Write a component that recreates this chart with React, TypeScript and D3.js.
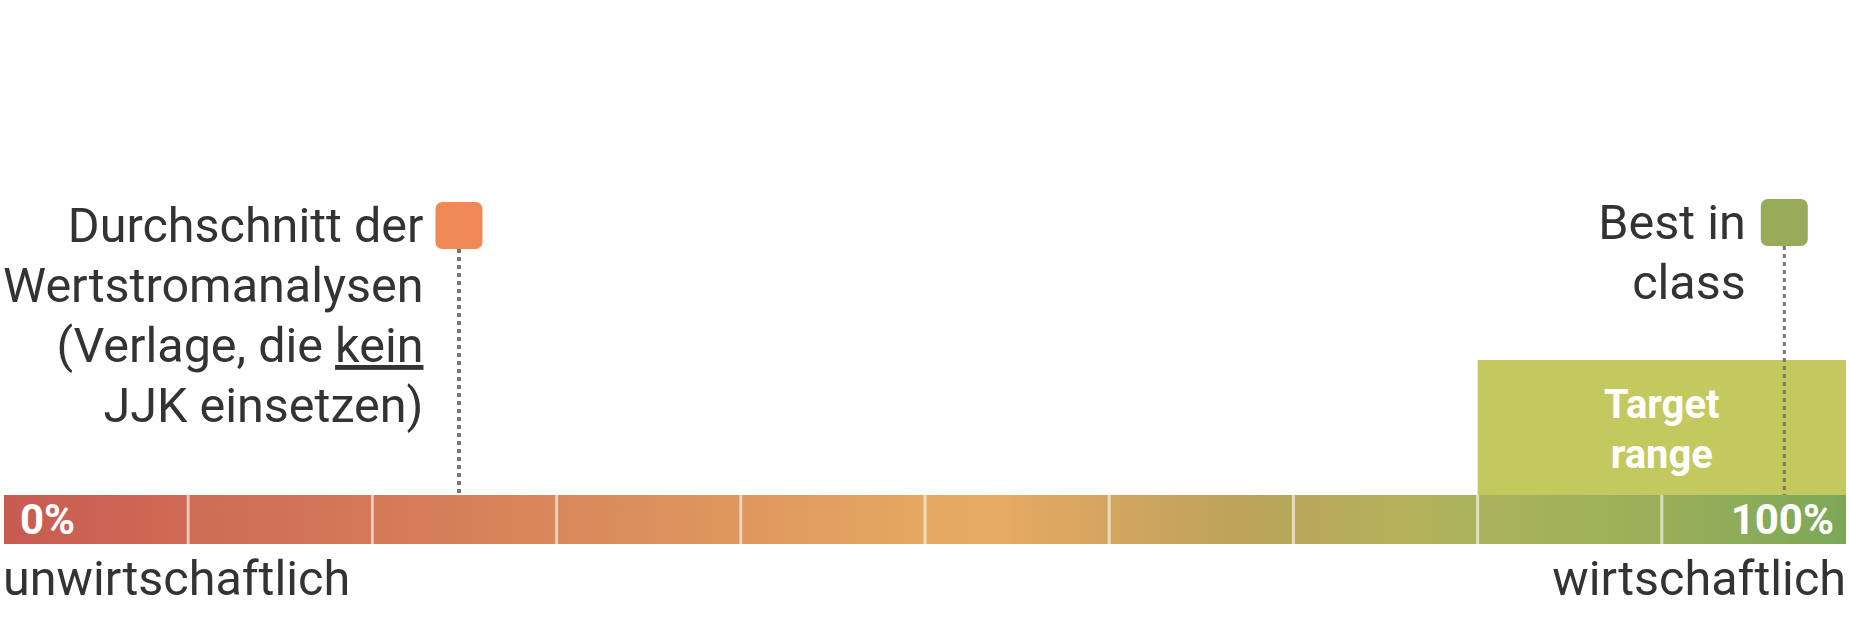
import { useEffect, useRef } from "react";
import * as d3 from "d3";

const WIDTH = 1850;
const HEIGHT = 620;

// scale 0..100 %, split into 10 blocks
const scaleDomain = [0, 100];
const scaleEndLabels = ["0%", "100%"];
const sideLabels = ["unwirtschaftlich", "wirtschaftlich"];

// markers
const markerValues = [24.7, 96.65];
const markerColors = ["#F08956", "#97AB58"];
const markerLines = [
  ["Durchschnitt der", "Wertstromanalysen", "(Verlage, die |kein", "JJK einsetzen)"],
  ["Best in", "class"],
];

const targetRange = [80, 100];
const targetLines = ["Target", "range"];

const gradientStops: [number, string][] = [
  [0, "#C85A52"],
  [0.1, "#CF6B55"],
  [0.25, "#D6805A"],
  [0.4, "#DF975E"],
  [0.5, "#E5A862"],
  [0.54, "#E6AA64"],
  [0.6, "#D4A55F"],
  [0.68, "#B9A35B"],
  [0.76, "#B5B25B"],
  [0.8, "#AAB35C"],
  [0.9, "#9BAE5A"],
  [1, "#7AA858"],
];

const FONT = "Roboto, 'Noto Sans', sans-serif";
const TEXT = "#333333";

export default function App() {
  const ref = useRef<SVGSVGElement>(null);

  useEffect(() => {
    document.body.style.margin = "0";
    if (!ref.current) return;

    const barTop = 495;
    const barH = 49;
    const markerSize = 47;

    const svg = d3.select(ref.current);
    svg.selectAll("*").remove();

    const x = d3.scaleLinear().domain(scaleDomain).range([4, 1846]);

    const grad = svg
      .append("defs")
      .append("linearGradient")
      .attr("id", "barGrad")
      .attr("x1", "0%")
      .attr("x2", "100%");
    grad
      .selectAll("stop")
      .data(gradientStops)
      .join("stop")
      .attr("offset", (d) => d[0])
      .attr("stop-color", (d) => d[1]);

    // target range box
    svg
      .append("rect")
      .attr("x", x(targetRange[0]))
      .attr("y", 360)
      .attr("width", x(targetRange[1]) - x(targetRange[0]))
      .attr("height", barTop - 360)
      .attr("fill", "#C3C95E");

    svg
      .append("text")
      .attr("font-family", FONT)
      .attr("font-weight", 700)
      .attr("font-size", 40)
      .attr("fill", "#fff")
      .attr("text-anchor", "middle")
      .selectAll("tspan")
      .data(targetLines)
      .join("tspan")
      .attr("x", (x(targetRange[0]) + x(targetRange[1])) / 2)
      .attr("y", (_, i) => 418 + i * 50)
      .text((d) => d);

    // bar
    svg
      .append("rect")
      .attr("x", x(0))
      .attr("y", barTop)
      .attr("width", x(100) - x(0))
      .attr("height", barH)
      .attr("fill", "url(#barGrad)");

    svg
      .append("g")
      .selectAll("line")
      .data(x.ticks(10).slice(1, -1))
      .join("line")
      .attr("x1", (d) => x(d))
      .attr("x2", (d) => x(d))
      .attr("y1", barTop)
      .attr("y2", barTop + barH)
      .attr("stroke", "rgba(255,255,255,0.6)")
      .attr("stroke-width", 3);

    // end labels inside bar
    svg
      .append("g")
      .selectAll("text")
      .data(scaleEndLabels)
      .join("text")
      .attr("x", (_, i) => (i === 0 ? x(scaleDomain[0]) + 16 : x(scaleDomain[1]) - 12))
      .attr("y", 534)
      .attr("text-anchor", (_, i) => (i === 0 ? "start" : "end"))
      .attr("font-family", FONT)
      .attr("font-weight", 700)
      .attr("font-size", 42)
      .attr("fill", "#fff")
      .text((d) => d);

    // labels below bar
    svg
      .append("g")
      .selectAll("text")
      .data(sideLabels)
      .join("text")
      .attr("x", (_, i) => (i === 0 ? x(scaleDomain[0]) - 1 : x(scaleDomain[1])))
      .attr("y", 595)
      .attr("text-anchor", (_, i) => (i === 0 ? "start" : "end"))
      .attr("font-family", FONT)
      .attr("font-size", 48.5)
      .attr("fill", TEXT)
      .text((d) => d);

    // markers
    const mk = svg
      .append("g")
      .selectAll("g")
      .data(markerValues.map((v, i) => ({ v, i, color: markerColors[i], lines: markerLines[i] })))
      .join("g");

    const top = (i: number) => (i === 0 ? 202 : 199);

    mk.append("line")
      .attr("x1", (d) => x(d.v))
      .attr("x2", (d) => x(d.v))
      .attr("y1", (d) => top(d.i) + markerSize)
      .attr("y2", barTop)
      .attr("stroke", "#777")
      .attr("stroke-width", (d) => (d.i === 0 ? 4 : 3))
      .attr("stroke-dasharray", "4,4");

    mk.append("rect")
      .attr("x", (d) => x(d.v) - markerSize / 2)
      .attr("y", (d) => top(d.i))
      .attr("width", markerSize)
      .attr("height", markerSize)
      .attr("rx", 7)
      .attr("fill", (d) => d.color);

    const label = mk
      .append("text")
      .attr("font-family", FONT)
      .attr("font-size", 48.5)
      .attr("fill", TEXT)
      .attr("text-anchor", "end");

    label.each(function (d) {
      const t = d3.select(this);
      const gap = d.i === 0 ? 12 : 15;
      d.lines.forEach((line, j) => {
        const [plain, under] = line.split("|");
        t.append("tspan")
          .attr("x", x(d.v) - markerSize / 2 - gap)
          .attr("y", top(d.i) + 40 + j * 60)
          .text(plain);
        if (under !== undefined) {
          t.append("tspan").attr("text-decoration", "underline").text(under);
        }
      });
    });
  }, []);

  return <svg ref={ref} width={WIDTH} height={HEIGHT} style={{ display: "block" }} />;
}
